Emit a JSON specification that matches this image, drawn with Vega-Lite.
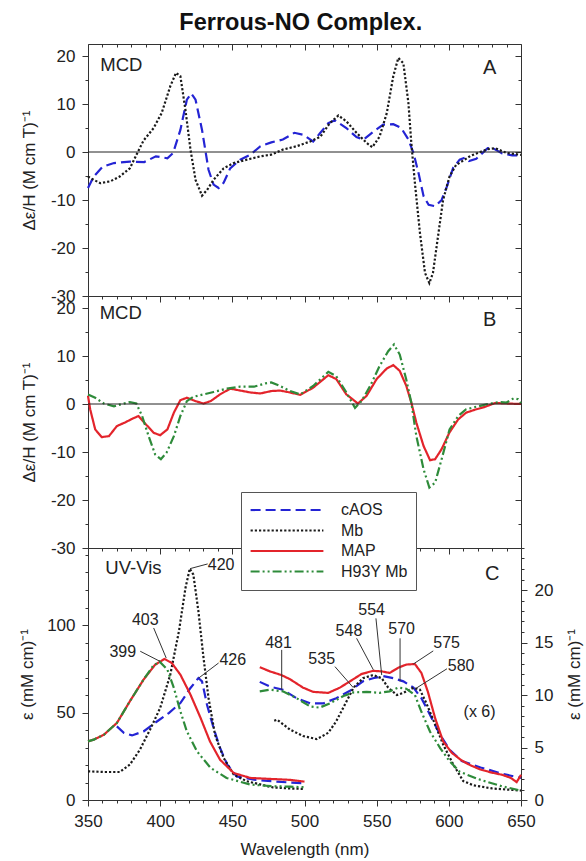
{
  "$schema": "https://vega.github.io/schema/vega-lite/v6.json",
  "padding": {"left": 18, "top": 10, "right": 0, "bottom": 0},
  "background": "white",
  "title": {"text": "Ferrous-NO Complex.", "font": "Liberation Sans", "fontSize": 23.5, "fontWeight": "bold", "color": "#111", "offset": 9, "anchor": "middle"},
  "spacing": 0,
  "bounds": "flush",
  "config": {
    "view": {"stroke": "#333", "strokeWidth": 1},
    "axis": {"domain": false, "grid": false, "labelFont": "Liberation Sans", "labelFontSize": 17, "labelColor": "#222", "tickColor": "#333", "titleFont": "Liberation Sans", "titleFontSize": 17, "titleFontWeight": "normal", "titleColor": "#222", "labelPadding": 7, "labelFlush": false, "labelOverlap": false},
    "text": {"font": "Liberation Sans"},
    "line": {"strokeWidth": 2.2}
  },
  "resolve": {
    "scale": {"color": "independent", "strokeDash": "independent"},
    "legend": {"color": "independent", "strokeDash": "independent"}
  },
  "datasets": {
    "mcdA": [
      {"s":"cAOS","nm":350,"v":-7.5},{"s":"cAOS","nm":354,"v":-5.1},{"s":"cAOS","nm":360,"v":-3.1},{"s":"cAOS","nm":368,"v":-2.3},{"s":"cAOS","nm":379,"v":-2.0},{"s":"cAOS","nm":389,"v":-2.1},{"s":"cAOS","nm":397,"v":-0.9},{"s":"cAOS","nm":405,"v":-1.3},{"s":"cAOS","nm":409,"v":-0.2},{"s":"cAOS","nm":414,"v":4.6},{"s":"cAOS","nm":418.5,"v":10.9},{"s":"cAOS","nm":421.5,"v":12.2},{"s":"cAOS","nm":424.5,"v":10.9},{"s":"cAOS","nm":429,"v":4.6},{"s":"cAOS","nm":433.5,"v":-3.7},{"s":"cAOS","nm":437,"v":-6.8},{"s":"cAOS","nm":440.5,"v":-7.5},{"s":"cAOS","nm":444,"v":-6.4},{"s":"cAOS","nm":448.5,"v":-3.4},{"s":"cAOS","nm":455.5,"v":-1.6},{"s":"cAOS","nm":462.5,"v":-0.55},{"s":"cAOS","nm":469.5,"v":1.2},{"s":"cAOS","nm":477,"v":2.0},{"s":"cAOS","nm":485,"v":2.6},{"s":"cAOS","nm":493,"v":4.0},{"s":"cAOS","nm":499,"v":3.6},{"s":"cAOS","nm":506,"v":2.2},{"s":"cAOS","nm":511,"v":4.0},{"s":"cAOS","nm":516.5,"v":6.0},{"s":"cAOS","nm":521,"v":6.6},{"s":"cAOS","nm":529,"v":5.0},{"s":"cAOS","nm":536,"v":3.1},{"s":"cAOS","nm":541,"v":2.6},{"s":"cAOS","nm":548,"v":4.3},{"s":"cAOS","nm":554.5,"v":5.7},{"s":"cAOS","nm":561.5,"v":5.8},{"s":"cAOS","nm":567,"v":5.0},{"s":"cAOS","nm":572,"v":2.6},{"s":"cAOS","nm":575.5,"v":-0.2},{"s":"cAOS","nm":579,"v":-4.4},{"s":"cAOS","nm":582.5,"v":-9.2},{"s":"cAOS","nm":586,"v":-11.0},{"s":"cAOS","nm":590.5,"v":-11.3},{"s":"cAOS","nm":595,"v":-10.0},{"s":"cAOS","nm":598.5,"v":-7.3},{"s":"cAOS","nm":603,"v":-3.3},{"s":"cAOS","nm":607.5,"v":-1.6},{"s":"cAOS","nm":611,"v":-1.2},{"s":"cAOS","nm":614,"v":-1.9},{"s":"cAOS","nm":619,"v":-1.4},{"s":"cAOS","nm":627,"v":0.8},{"s":"cAOS","nm":630,"v":0.9},{"s":"cAOS","nm":637,"v":-0.3},{"s":"cAOS","nm":644,"v":-0.7},{"s":"cAOS","nm":650,"v":-0.7},
      {"s":"Mb","nm":350,"v":-5.1},{"s":"Mb","nm":354,"v":-5.8},{"s":"Mb","nm":358.5,"v":-6.5},{"s":"Mb","nm":365.5,"v":-6.1},{"s":"Mb","nm":372,"v":-5.1},{"s":"Mb","nm":379,"v":-3.4},{"s":"Mb","nm":384,"v":-0.3},{"s":"Mb","nm":388.5,"v":2.4},{"s":"Mb","nm":395.5,"v":5.0},{"s":"Mb","nm":401,"v":8.1},{"s":"Mb","nm":407,"v":13.7},{"s":"Mb","nm":411,"v":16.5},{"s":"Mb","nm":414,"v":15.8},{"s":"Mb","nm":417.5,"v":8.8},{"s":"Mb","nm":421,"v":0.5},{"s":"Mb","nm":424.5,"v":-5.8},{"s":"Mb","nm":429,"v":-9.1},{"s":"Mb","nm":432.5,"v":-7.9},{"s":"Mb","nm":437,"v":-5.8},{"s":"Mb","nm":444,"v":-3.4},{"s":"Mb","nm":451,"v":-2.3},{"s":"Mb","nm":460,"v":-1.6},{"s":"Mb","nm":469.5,"v":-0.9},{"s":"Mb","nm":477,"v":-0.55},{"s":"Mb","nm":485,"v":0.5},{"s":"Mb","nm":494.5,"v":1.2},{"s":"Mb","nm":504,"v":2.2},{"s":"Mb","nm":511,"v":3.2},{"s":"Mb","nm":517.5,"v":6.0},{"s":"Mb","nm":523.5,"v":7.6},{"s":"Mb","nm":529,"v":6.4},{"s":"Mb","nm":536,"v":4.0},{"s":"Mb","nm":543,"v":1.9},{"s":"Mb","nm":547,"v":1.0},{"s":"Mb","nm":552,"v":3.2},{"s":"Mb","nm":557,"v":8.1},{"s":"Mb","nm":561.5,"v":15.8},{"s":"Mb","nm":565,"v":19.6},{"s":"Mb","nm":568.5,"v":18.5},{"s":"Mb","nm":572,"v":10.2},{"s":"Mb","nm":574,"v":1.9},{"s":"Mb","nm":576.5,"v":-6.5},{"s":"Mb","nm":580,"v":-16.9},{"s":"Mb","nm":583.5,"v":-25.2},{"s":"Mb","nm":586.5,"v":-27.3},{"s":"Mb","nm":589,"v":-25.2},{"s":"Mb","nm":592.5,"v":-17.6},{"s":"Mb","nm":596,"v":-10},{"s":"Mb","nm":600.5,"v":-5.1},{"s":"Mb","nm":605,"v":-2.7},{"s":"Mb","nm":611,"v":-1.6},{"s":"Mb","nm":615,"v":-0.8},{"s":"Mb","nm":620,"v":-0.2},{"s":"Mb","nm":627,"v":0.6},{"s":"Mb","nm":632,"v":0.8},{"s":"Mb","nm":640,"v":-0.2},{"s":"Mb","nm":650,"v":-0.6}
    ],
    "mcdB": [
      {"s":"MAP","nm":350,"v":1.7},{"s":"MAP","nm":351.5,"v":-1.1},{"s":"MAP","nm":355,"v":-5.3},{"s":"MAP","nm":359.5,"v":-6.9},{"s":"MAP","nm":364.5,"v":-6.7},{"s":"MAP","nm":370,"v":-4.6},{"s":"MAP","nm":376,"v":-3.8},{"s":"MAP","nm":380.5,"v":-3.1},{"s":"MAP","nm":385,"v":-2.5},{"s":"MAP","nm":390,"v":-4.2},{"s":"MAP","nm":395.5,"v":-6.0},{"s":"MAP","nm":400,"v":-6.5},{"s":"MAP","nm":405,"v":-5.3},{"s":"MAP","nm":409.5,"v":-1.8},{"s":"MAP","nm":414,"v":0.8},{"s":"MAP","nm":418.5,"v":1.3},{"s":"MAP","nm":424.5,"v":0.6},{"s":"MAP","nm":430,"v":0.1},{"s":"MAP","nm":435,"v":0.6},{"s":"MAP","nm":441.5,"v":2.0},{"s":"MAP","nm":448.5,"v":3.2},{"s":"MAP","nm":455.5,"v":2.8},{"s":"MAP","nm":462.5,"v":2.4},{"s":"MAP","nm":469.5,"v":2.2},{"s":"MAP","nm":477,"v":2.7},{"s":"MAP","nm":483,"v":2.8},{"s":"MAP","nm":490,"v":2.4},{"s":"MAP","nm":497,"v":1.9},{"s":"MAP","nm":506,"v":3.4},{"s":"MAP","nm":516.5,"v":6.0},{"s":"MAP","nm":522,"v":5.2},{"s":"MAP","nm":529,"v":2.0},{"s":"MAP","nm":537,"v":0.1},{"s":"MAP","nm":543,"v":1.7},{"s":"MAP","nm":550,"v":5.2},{"s":"MAP","nm":557,"v":7.4},{"s":"MAP","nm":561.5,"v":8.1},{"s":"MAP","nm":566,"v":6.9},{"s":"MAP","nm":570.5,"v":3.8},{"s":"MAP","nm":574,"v":0.3},{"s":"MAP","nm":577.5,"v":-3.9},{"s":"MAP","nm":582.5,"v":-8.75},{"s":"MAP","nm":587,"v":-11.7},{"s":"MAP","nm":590.5,"v":-11.5},{"s":"MAP","nm":595,"v":-9.4},{"s":"MAP","nm":600.5,"v":-5.9},{"s":"MAP","nm":606.5,"v":-3.2},{"s":"MAP","nm":612,"v":-1.8},{"s":"MAP","nm":618,"v":-1.2},{"s":"MAP","nm":625,"v":-0.6},{"s":"MAP","nm":632,"v":0.2},{"s":"MAP","nm":640,"v":0.1},{"s":"MAP","nm":650,"v":0},
      {"s":"H93Y Mb","nm":350,"v":2.0},{"s":"H93Y Mb","nm":355,"v":1.3},{"s":"H93Y Mb","nm":361,"v":0.1},{"s":"H93Y Mb","nm":368,"v":-0.5},{"s":"H93Y Mb","nm":373.5,"v":0},{"s":"H93Y Mb","nm":379,"v":0.4},{"s":"H93Y Mb","nm":383.5,"v":0.1},{"s":"H93Y Mb","nm":387.5,"v":-2.5},{"s":"H93Y Mb","nm":392,"v":-6.7},{"s":"H93Y Mb","nm":396.5,"v":-10.5},{"s":"H93Y Mb","nm":400.5,"v":-11.5},{"s":"H93Y Mb","nm":404.5,"v":-10.1},{"s":"H93Y Mb","nm":409.5,"v":-6.7},{"s":"H93Y Mb","nm":414,"v":-2.5},{"s":"H93Y Mb","nm":418.5,"v":0.6},{"s":"H93Y Mb","nm":423,"v":1.5},{"s":"H93Y Mb","nm":430,"v":2.0},{"s":"H93Y Mb","nm":437,"v":2.5},{"s":"H93Y Mb","nm":446,"v":3.2},{"s":"H93Y Mb","nm":455.5,"v":3.6},{"s":"H93Y Mb","nm":465,"v":3.6},{"s":"H93Y Mb","nm":473,"v":4.3},{"s":"H93Y Mb","nm":477,"v":4.5},{"s":"H93Y Mb","nm":483,"v":3.75},{"s":"H93Y Mb","nm":490,"v":2.7},{"s":"H93Y Mb","nm":497,"v":2.0},{"s":"H93Y Mb","nm":506,"v":3.75},{"s":"H93Y Mb","nm":516.5,"v":6.7},{"s":"H93Y Mb","nm":522,"v":5.8},{"s":"H93Y Mb","nm":529,"v":2.4},{"s":"H93Y Mb","nm":535,"v":-0.8},{"s":"H93Y Mb","nm":539.5,"v":0.6},{"s":"H93Y Mb","nm":545.5,"v":3.75},{"s":"H93Y Mb","nm":552,"v":7.9},{"s":"H93Y Mb","nm":558,"v":11.0},{"s":"H93Y Mb","nm":562,"v":12.4},{"s":"H93Y Mb","nm":566,"v":10.3},{"s":"H93Y Mb","nm":570.5,"v":5.1},{"s":"H93Y Mb","nm":574,"v":0.3},{"s":"H93Y Mb","nm":577.5,"v":-6.7},{"s":"H93Y Mb","nm":582.5,"v":-13.6},{"s":"H93Y Mb","nm":586.5,"v":-17.4},{"s":"H93Y Mb","nm":590.5,"v":-16.4},{"s":"H93Y Mb","nm":595,"v":-11.5},{"s":"H93Y Mb","nm":600.5,"v":-5.3},{"s":"H93Y Mb","nm":606.5,"v":-2.5},{"s":"H93Y Mb","nm":612,"v":-1.1},{"s":"H93Y Mb","nm":620,"v":-0.5},{"s":"H93Y Mb","nm":627,"v":0},{"s":"H93Y Mb","nm":635,"v":0.4},{"s":"H93Y Mb","nm":640,"v":0.3},{"s":"H93Y Mb","nm":645,"v":1.2},{"s":"H93Y Mb","nm":648,"v":1.0},{"s":"H93Y Mb","nm":650,"v":0.2}
    ],
    "soret": [
      {"s":"cAOS","nm":370,"v":42.1},{"s":"cAOS","nm":375,"v":38.3},{"s":"cAOS","nm":380.5,"v":36.9},{"s":"cAOS","nm":388.5,"v":39.2},{"s":"cAOS","nm":398,"v":45},{"s":"cAOS","nm":406,"v":49.7},{"s":"cAOS","nm":414,"v":55.4},{"s":"cAOS","nm":421,"v":64},{"s":"cAOS","nm":426.5,"v":69.7},{"s":"cAOS","nm":429,"v":67.8},{"s":"cAOS","nm":432.5,"v":54.3},{"s":"cAOS","nm":437,"v":41.1},{"s":"cAOS","nm":441.5,"v":29.7},{"s":"cAOS","nm":446.5,"v":20.2},{"s":"cAOS","nm":453,"v":13.5},{"s":"cAOS","nm":465,"v":11.6},{"s":"cAOS","nm":477.5,"v":10.7},{"s":"cAOS","nm":490,"v":10.0},{"s":"cAOS","nm":500,"v":9.5},
      {"s":"Mb","nm":350,"v":16.4},{"s":"Mb","nm":361,"v":16},{"s":"Mb","nm":372,"v":16},{"s":"Mb","nm":379,"v":20.2},{"s":"Mb","nm":386,"v":28.8},{"s":"Mb","nm":393,"v":40.2},{"s":"Mb","nm":400,"v":52.6},{"s":"Mb","nm":407,"v":71.6},{"s":"Mb","nm":413,"v":96.4},{"s":"Mb","nm":417.5,"v":121},{"s":"Mb","nm":420.5,"v":132.2},{"s":"Mb","nm":423,"v":128.8},{"s":"Mb","nm":426.5,"v":107.8},{"s":"Mb","nm":430,"v":81.5},{"s":"Mb","nm":433.5,"v":58.3},{"s":"Mb","nm":438,"v":37.3},{"s":"Mb","nm":444,"v":24},{"s":"Mb","nm":451,"v":14.5},{"s":"Mb","nm":460,"v":10.7},{"s":"Mb","nm":472,"v":8.4},{"s":"Mb","nm":478,"v":7.2},{"s":"Mb","nm":490,"v":6.6},{"s":"Mb","nm":500,"v":6.3},
      {"s":"MAP","nm":350,"v":33.5},{"s":"MAP","nm":354,"v":34.5},{"s":"MAP","nm":361,"v":37.3},{"s":"MAP","nm":370,"v":44},{"s":"MAP","nm":379,"v":56.4},{"s":"MAP","nm":388.5,"v":68.8},{"s":"MAP","nm":396.5,"v":77.3},{"s":"MAP","nm":403,"v":80.6},{"s":"MAP","nm":408,"v":78.3},{"s":"MAP","nm":414,"v":71.6},{"s":"MAP","nm":421,"v":60.2},{"s":"MAP","nm":428,"v":46.9},{"s":"MAP","nm":434.5,"v":33.5},{"s":"MAP","nm":441.5,"v":23},{"s":"MAP","nm":451,"v":15.4},{"s":"MAP","nm":462.5,"v":12.6},{"s":"MAP","nm":477.5,"v":12},{"s":"MAP","nm":490,"v":11.5},{"s":"MAP","nm":500,"v":10.5},
      {"s":"H93Y Mb","nm":350,"v":33.5},{"s":"H93Y Mb","nm":354,"v":34.5},{"s":"H93Y Mb","nm":361,"v":37.3},{"s":"H93Y Mb","nm":370,"v":44},{"s":"H93Y Mb","nm":379,"v":56.4},{"s":"H93Y Mb","nm":388.5,"v":68.8},{"s":"H93Y Mb","nm":395,"v":76.5},{"s":"H93Y Mb","nm":399.5,"v":79.2},{"s":"H93Y Mb","nm":405,"v":74.5},{"s":"H93Y Mb","nm":409.5,"v":64},{"s":"H93Y Mb","nm":414,"v":50.7},{"s":"H93Y Mb","nm":418.5,"v":39.2},{"s":"H93Y Mb","nm":425.5,"v":27.8},{"s":"H93Y Mb","nm":435,"v":18.3},{"s":"H93Y Mb","nm":446,"v":12.6},{"s":"H93Y Mb","nm":462.5,"v":8.8},{"s":"H93Y Mb","nm":477.5,"v":7.9},{"s":"H93Y Mb","nm":490,"v":7.6},{"s":"H93Y Mb","nm":500,"v":7.3}
    ],
    "vis": [
      {"s":"cAOS","nm":469,"v":11.25},{"s":"cAOS","nm":476,"v":10.8},{"s":"cAOS","nm":485,"v":10.5},{"s":"cAOS","nm":494.5,"v":9.7},{"s":"cAOS","nm":504,"v":9.2},{"s":"cAOS","nm":513,"v":9.2},{"s":"cAOS","nm":522,"v":9.7},{"s":"cAOS","nm":531.5,"v":10.4},{"s":"cAOS","nm":540.5,"v":11.3},{"s":"cAOS","nm":547.5,"v":11.6},{"s":"cAOS","nm":554.5,"v":11.8},{"s":"cAOS","nm":561.5,"v":11.6},{"s":"cAOS","nm":568.5,"v":11.3},{"s":"cAOS","nm":575.5,"v":10.7},{"s":"cAOS","nm":581,"v":9.7},{"s":"cAOS","nm":587,"v":8.1},{"s":"cAOS","nm":594,"v":6.2},{"s":"cAOS","nm":600.5,"v":4.8},{"s":"cAOS","nm":609,"v":3.7},{"s":"cAOS","nm":622,"v":3.1},{"s":"cAOS","nm":637,"v":2.5},{"s":"cAOS","nm":650,"v":2.1},
      {"s":"Mb","nm":479,"v":7.55},{"s":"Mb","nm":481,"v":7.65},{"s":"Mb","nm":490,"v":6.7},{"s":"Mb","nm":499,"v":6.1},{"s":"Mb","nm":508.5,"v":5.8},{"s":"Mb","nm":516.5,"v":6.4},{"s":"Mb","nm":522,"v":7.5},{"s":"Mb","nm":528,"v":9.1},{"s":"Mb","nm":534,"v":10.7},{"s":"Mb","nm":540.5,"v":11.6},{"s":"Mb","nm":547.5,"v":11.9},{"s":"Mb","nm":553.5,"v":11.6},{"s":"Mb","nm":558,"v":10.7},{"s":"Mb","nm":564,"v":10.0},{"s":"Mb","nm":568.5,"v":10.2},{"s":"Mb","nm":575.5,"v":10.7},{"s":"Mb","nm":580,"v":10.5},{"s":"Mb","nm":584.5,"v":9.2},{"s":"Mb","nm":590.5,"v":7.2},{"s":"Mb","nm":596,"v":5.3},{"s":"Mb","nm":603,"v":3.4},{"s":"Mb","nm":610,"v":1.8},{"s":"Mb","nm":617,"v":1.4},{"s":"Mb","nm":630,"v":1.1},{"s":"Mb","nm":640,"v":1.0},{"s":"Mb","nm":650,"v":0.9},
      {"s":"MAP","nm":469,"v":12.65},{"s":"MAP","nm":476,"v":12.25},{"s":"MAP","nm":484,"v":11.9},{"s":"MAP","nm":490,"v":11.5},{"s":"MAP","nm":499,"v":10.7},{"s":"MAP","nm":506,"v":10.3},{"s":"MAP","nm":516.5,"v":10.2},{"s":"MAP","nm":524.5,"v":10.7},{"s":"MAP","nm":531.5,"v":11.3},{"s":"MAP","nm":539.5,"v":12.0},{"s":"MAP","nm":547.5,"v":12.3},{"s":"MAP","nm":553.5,"v":12.25},{"s":"MAP","nm":559,"v":12.1},{"s":"MAP","nm":565,"v":12.6},{"s":"MAP","nm":570.5,"v":12.9},{"s":"MAP","nm":576.5,"v":12.95},{"s":"MAP","nm":581,"v":12.1},{"s":"MAP","nm":585.5,"v":10.3},{"s":"MAP","nm":590.5,"v":7.8},{"s":"MAP","nm":596,"v":5.6},{"s":"MAP","nm":602,"v":4.5},{"s":"MAP","nm":608.5,"v":3.8},{"s":"MAP","nm":615,"v":3.3},{"s":"MAP","nm":622,"v":2.9},{"s":"MAP","nm":630,"v":2.6},{"s":"MAP","nm":637,"v":2.4},{"s":"MAP","nm":643,"v":2.1},{"s":"MAP","nm":647,"v":1.7},{"s":"MAP","nm":650,"v":2.4},
      {"s":"H93Y Mb","nm":469,"v":10.35},{"s":"H93Y Mb","nm":476,"v":10.5},{"s":"H93Y Mb","nm":485,"v":10.35},{"s":"H93Y Mb","nm":494.5,"v":9.7},{"s":"H93Y Mb","nm":504,"v":8.9},{"s":"H93Y Mb","nm":510.5,"v":8.8},{"s":"H93Y Mb","nm":517.5,"v":9.2},{"s":"H93Y Mb","nm":527,"v":9.9},{"s":"H93Y Mb","nm":534,"v":10.25},{"s":"H93Y Mb","nm":543,"v":10.3},{"s":"H93Y Mb","nm":552,"v":10.2},{"s":"H93Y Mb","nm":559,"v":10.35},{"s":"H93Y Mb","nm":565,"v":10.7},{"s":"H93Y Mb","nm":570.5,"v":10.6},{"s":"H93Y Mb","nm":576.5,"v":10.0},{"s":"H93Y Mb","nm":581,"v":8.4},{"s":"H93Y Mb","nm":587,"v":6.5},{"s":"H93Y Mb","nm":594,"v":4.95},{"s":"H93Y Mb","nm":600.5,"v":3.7},{"s":"H93Y Mb","nm":607.5,"v":2.7},{"s":"H93Y Mb","nm":620,"v":2.0},{"s":"H93Y Mb","nm":637,"v":1.3},{"s":"H93Y Mb","nm":650,"v":0.9}
    ],
    "notesSoret": [
      {"t":"420","tx":442.2,"ty":134.5,"x1":420.7,"y1":132.2,"x2":432.9,"y2":134.9},
      {"t":"403","tx":389.7,"ty":103,"x1":395.5,"y1":98.3,"x2":404.2,"y2":81.1},
      {"t":"399","tx":374.1,"ty":84.6,"x1":386.2,"y1":85,"x2":399.7,"y2":79.3},
      {"t":"426","tx":450.3,"ty":79.8,"x1":440.5,"y1":78.3,"x2":426.7,"y2":69.7}
    ],
    "notesVis": [
      {"t":"481","tx":482,"ty":14.95,"x1":484.2,"y1":14.3,"x2":484.2,"y2":10.5},
      {"t":"535","tx":511.9,"ty":13.4,"x1":521.1,"y1":12.7,"x2":533.8,"y2":10.7},
      {"t":"548","tx":530.8,"ty":16.1,"x1":536.1,"y1":15.4,"x2":547.7,"y2":12.4},
      {"t":"554","tx":546.5,"ty":18.1,"x1":549.5,"y1":17.3,"x2":553.5,"y2":11.9},
      {"t":"570","tx":567.3,"ty":16.3,"x1":566.2,"y1":15.4,"x2":566.2,"y2":11.3},
      {"t":"575","tx":598.5,"ty":14.95,"x1":589.2,"y1":14.2,"x2":575.4,"y2":12.95},
      {"t":"580","tx":608.5,"ty":12.8,"x1":598.7,"y1":12.5,"x2":578,"y2":10.7}
    ]
  },
  "vconcat": [
    {
      "width": 433,
      "height": 252,
      "resolve": {"axis": {"x": "independent", "y": "independent"}},
      "layer": [
        {
          "data": {"name": "mcdA"},
          "mark": {"type": "line"},
          "encoding": {
            "x": {"field": "nm", "type": "quantitative", "scale": {"domain": [350, 650], "nice": false, "zero": false},
              "axis": {"orient": "bottom", "values": [350,360,370,380,390,400,410,420,430,440,450,460,470,480,490,500,510,520,530,540,550,560,570,580,590,600,610,620,630,640,650], "labels": false, "title": null,
                "tickSize": {"condition": {"test": "datum.value % 50 === 0", "value": 6}, "value": 3}}},
            "y": {"field": "v", "type": "quantitative", "scale": {"domain": [-30, 22.5], "nice": false, "zero": false},
              "axis": {"orient": "left", "values": [-30,-25,-20,-15,-10,-5,0,5,10,15,20], "labelExpr": "datum.value % 10 === 0 ? '' + datum.value : ''", "title": "Δε/H (M cm T)⁻¹", "titlePadding": 12,
                "tickSize": {"condition": {"test": "datum.value % 10 === 0", "value": 6}, "value": 3}}},
            "color": {"field": "s", "type": "nominal", "scale": {"domain": ["cAOS", "Mb", "MAP", "H93Y Mb"], "range": ["#2424d4", "#1a1a1a", "#e3242b", "#2e8b3a"]}, "legend": null},
            "strokeDash": {"field": "s", "type": "nominal", "scale": {"domain": ["cAOS", "Mb", "MAP", "H93Y Mb"], "range": [[10, 5], [2.2, 2], [1, 0], [9, 3, 2, 3, 2, 3]]}, "legend": null}
          }
        },
        {
          "data": {"values": [{"v": 0}]},
          "mark": {"type": "rule", "color": "#222", "strokeWidth": 1},
          "encoding": {"y": {"field": "v", "type": "quantitative", "axis": null}}
        },
        {
          "data": {"values": [{"t": "MCD", "nm": 358.5, "v": 18.2}]},
          "mark": {"type": "text", "fontSize": 18.5, "color": "#222", "align": "left", "baseline": "middle"},
          "encoding": {
            "text": {"field": "t"},
            "x": {"field": "nm", "type": "quantitative",
              "axis": {"orient": "top", "values": [350,360,370,380,390,400,410,420,430,440,450,460,470,480,490,500,510,520,530,540,550,560,570,580,590,600,610,620,630,640,650], "labels": false, "title": null,
                "tickSize": {"condition": {"test": "datum.value % 50 === 0", "value": -6}, "value": -3}}},
            "y": {"field": "v", "type": "quantitative",
              "axis": {"orient": "right", "values": [-30,-25,-20,-15,-10,-5,0,5,10,15,20], "labels": false, "title": null,
                "tickSize": {"condition": {"test": "datum.value % 10 === 0", "value": -6}, "value": -3}}}
          }
        },
        {
          "data": {"values": [{"t": "A", "nm": 628.3, "v": 17.6}]},
          "mark": {"type": "text", "fontSize": 20, "color": "#222", "align": "center", "baseline": "middle"},
          "encoding": {
            "text": {"field": "t"},
            "x": {"field": "nm", "type": "quantitative", "axis": null},
            "y": {"field": "v", "type": "quantitative", "axis": null}
          }
        }
      ]
    },
    {
      "width": 433,
      "height": 252,
      "resolve": {"axis": {"x": "independent", "y": "independent"}},
      "layer": [
        {
          "data": {"name": "mcdB"},
          "mark": {"type": "line"},
          "encoding": {
            "x": {"field": "nm", "type": "quantitative", "scale": {"domain": [350, 650], "nice": false, "zero": false},
              "axis": {"orient": "bottom", "values": [350,360,370,380,390,400,410,420,430,440,450,460,470,480,490,500,510,520,530,540,550,560,570,580,590,600,610,620,630,640,650], "labels": false, "title": null,
                "tickSize": {"condition": {"test": "datum.value % 50 === 0", "value": 6}, "value": 3}}},
            "y": {"field": "v", "type": "quantitative", "scale": {"domain": [-30, 22.5], "nice": false, "zero": false},
              "axis": {"orient": "left", "values": [-30,-25,-20,-15,-10,-5,0,5,10,15,20], "labelExpr": "datum.value % 10 === 0 ? '' + datum.value : ''", "title": "Δε/H (M cm T)⁻¹", "titlePadding": 12,
                "tickSize": {"condition": {"test": "datum.value % 10 === 0", "value": 6}, "value": 3}}},
            "color": {"field": "s", "type": "nominal", "scale": {"domain": ["cAOS", "Mb", "MAP", "H93Y Mb"], "range": ["#2424d4", "#1a1a1a", "#e3242b", "#2e8b3a"]}, "legend": null},
            "strokeDash": {"field": "s", "type": "nominal", "scale": {"domain": ["cAOS", "Mb", "MAP", "H93Y Mb"], "range": [[10, 5], [2.2, 2], [1, 0], [9, 3, 2, 3, 2, 3]]}, "legend": null}
          }
        },
        {
          "data": {"values": [{"v": 0}]},
          "mark": {"type": "rule", "color": "#222", "strokeWidth": 1},
          "encoding": {"y": {"field": "v", "type": "quantitative", "axis": null}}
        },
        {
          "data": {"values": [{"t": "MCD", "nm": 358.1, "v": 19.0}]},
          "mark": {"type": "text", "fontSize": 18.5, "color": "#222", "align": "left", "baseline": "middle"},
          "encoding": {
            "text": {"field": "t"},
            "x": {"field": "nm", "type": "quantitative", "axis": null},
            "y": {"field": "v", "type": "quantitative",
              "axis": {"orient": "right", "values": [-30,-25,-20,-15,-10,-5,0,5,10,15,20], "labels": false, "title": null,
                "tickSize": {"condition": {"test": "datum.value % 10 === 0", "value": -6}, "value": -3}}}
          }
        },
        {
          "data": {"values": [{"t": "B", "nm": 628.3, "v": 17.4}]},
          "mark": {"type": "text", "fontSize": 20, "color": "#222", "align": "center", "baseline": "middle"},
          "encoding": {
            "text": {"field": "t"},
            "x": {"field": "nm", "type": "quantitative", "axis": null},
            "y": {"field": "v", "type": "quantitative", "axis": null}
          }
        }
      ]
    },
    {
      "width": 433,
      "height": 252,
      "resolve": {"scale": {"y": "independent"}, "axis": {"x": "independent", "y": "independent"}},
      "layer": [
        {
          "data": {"name": "soret"},
          "mark": {"type": "line"},
          "encoding": {
            "x": {"field": "nm", "type": "quantitative", "scale": {"domain": [350, 650], "nice": false, "zero": false},
              "axis": {"orient": "bottom", "values": [350,360,370,380,390,400,410,420,430,440,450,460,470,480,490,500,510,520,530,540,550,560,570,580,590,600,610,620,630,640,650], "labelExpr": "datum.value % 50 === 0 ? datum.label : ''", "title": "Wavelength (nm)", "titlePadding": 12,
                "tickSize": {"condition": {"test": "datum.value % 50 === 0", "value": 6}, "value": 3}}},
            "y": {"field": "v", "type": "quantitative", "scale": {"domain": [0, 144], "nice": false, "zero": false},
              "axis": {"orient": "left", "values": [0,10,20,30,40,50,60,70,80,90,100,110,120,130,140], "labelExpr": "datum.value % 50 === 0 ? datum.label : ''", "title": "ε (mM cm)⁻¹", "titlePadding": 10,
                "tickSize": {"condition": {"test": "datum.value % 50 === 0", "value": 6}, "value": 3}}},
            "color": {"field": "s", "type": "nominal", "scale": {"domain": ["cAOS", "Mb", "MAP", "H93Y Mb"], "range": ["#2424d4", "#1a1a1a", "#e3242b", "#2e8b3a"]},
              "legend": {"orient": "none", "legendX": 153, "legendY": -56, "title": null, "symbolType": "stroke", "symbolSize": 5300, "symbolStrokeWidth": 2, "labelFont": "Liberation Sans", "labelFontSize": 16, "labelColor": "#222", "labelOffset": 16, "padding": 8, "rowPadding": 0.5, "clipHeight": 20, "strokeColor": "#555", "fillColor": "white"}},
            "strokeDash": {"field": "s", "type": "nominal", "scale": {"domain": ["cAOS", "Mb", "MAP", "H93Y Mb"], "range": [[10, 5], [2.2, 2], [1, 0], [9, 3, 2, 3, 2, 3]]},
              "legend": {"orient": "none", "legendX": 153, "legendY": -56, "title": null, "symbolType": "stroke", "symbolSize": 5300, "symbolStrokeWidth": 2, "labelFont": "Liberation Sans", "labelFontSize": 16, "labelColor": "#222", "labelOffset": 16, "padding": 8, "rowPadding": 0.5, "clipHeight": 20, "strokeColor": "#555", "fillColor": "white"}}
          }
        },
        {
          "data": {"name": "vis"},
          "mark": {"type": "line"},
          "encoding": {
            "x": {"field": "nm", "type": "quantitative", "axis": null},
            "y": {"field": "v", "type": "quantitative", "scale": {"domain": [0, 24], "nice": false, "zero": false},
              "axis": {"orient": "right", "values": [0,1,2,3,4,5,6,7,8,9,10,11,12,13,14,15,16,17,18,19,20,21,22,23,24], "labelExpr": "datum.value % 5 === 0 ? datum.label : ''", "title": "ε (mM cm)⁻¹", "titleAngle": 270, "titleBaseline": "top", "titlePadding": 14,
                "tickSize": {"condition": {"test": "datum.value % 5 === 0", "value": 6}, "value": 3}}},
            "color": {"field": "s", "type": "nominal", "legend": null},
            "strokeDash": {"field": "s", "type": "nominal", "legend": null}
          }
        },
        {
          "data": {"name": "notesSoret"},
          "mark": {"type": "rule", "color": "#333", "strokeWidth": 1},
          "encoding": {
            "x": {"field": "x1", "type": "quantitative", "axis": null},
            "y": {"field": "y1", "type": "quantitative", "scale": {"domain": [0, 144], "nice": false, "zero": false}, "axis": null},
            "x2": {"field": "x2"},
            "y2": {"field": "y2"}
          }
        },
        {
          "data": {"name": "notesSoret"},
          "mark": {"type": "text", "fontSize": 16, "color": "#222", "align": "center", "baseline": "middle"},
          "encoding": {
            "text": {"field": "t"},
            "x": {"field": "tx", "type": "quantitative", "axis": null},
            "y": {"field": "ty", "type": "quantitative", "scale": {"domain": [0, 144], "nice": false, "zero": false}, "axis": null}
          }
        },
        {
          "data": {"values": [{"t": "UV-Vis", "nm": 362, "v": 132.6}]},
          "mark": {"type": "text", "fontSize": 18.5, "color": "#222", "align": "left", "baseline": "middle"},
          "encoding": {
            "text": {"field": "t"},
            "x": {"field": "nm", "type": "quantitative", "axis": null},
            "y": {"field": "v", "type": "quantitative", "scale": {"domain": [0, 144], "nice": false, "zero": false}, "axis": null}
          }
        },
        {
          "data": {"values": [{"t": "C", "nm": 630, "v": 129}]},
          "mark": {"type": "text", "fontSize": 20, "color": "#222", "align": "center", "baseline": "middle"},
          "encoding": {
            "text": {"field": "t"},
            "x": {"field": "nm", "type": "quantitative", "axis": null},
            "y": {"field": "v", "type": "quantitative", "scale": {"domain": [0, 144], "nice": false, "zero": false}, "axis": null}
          }
        },
        {
          "data": {"name": "notesVis"},
          "mark": {"type": "rule", "color": "#333", "strokeWidth": 1},
          "encoding": {
            "x": {"field": "x1", "type": "quantitative", "axis": null},
            "y": {"field": "y1", "type": "quantitative", "scale": {"domain": [0, 24], "nice": false, "zero": false}, "axis": null},
            "x2": {"field": "x2"},
            "y2": {"field": "y2"}
          }
        },
        {
          "data": {"name": "notesVis"},
          "mark": {"type": "text", "fontSize": 16, "color": "#222", "align": "center", "baseline": "middle"},
          "encoding": {
            "text": {"field": "t"},
            "x": {"field": "tx", "type": "quantitative", "axis": null},
            "y": {"field": "ty", "type": "quantitative", "scale": {"domain": [0, 24], "nice": false, "zero": false}, "axis": null}
          }
        },
        {
          "data": {"values": [{"t": "(x 6)", "nm": 621.3, "v": 8.35}]},
          "mark": {"type": "text", "fontSize": 16, "color": "#222", "align": "center", "baseline": "middle"},
          "encoding": {
            "text": {"field": "t"},
            "x": {"field": "nm", "type": "quantitative", "axis": null},
            "y": {"field": "v", "type": "quantitative", "scale": {"domain": [0, 24], "nice": false, "zero": false}, "axis": null}
          }
        }
      ]
    }
  ]
}
